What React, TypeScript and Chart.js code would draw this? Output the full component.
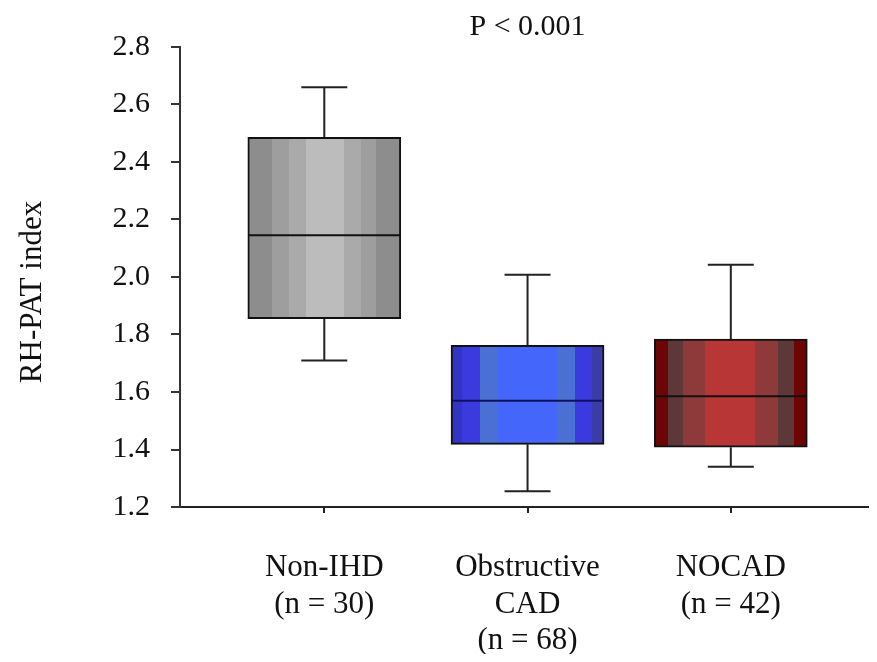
import React, { useEffect, useRef } from "react";
import { Chart, registerables } from "chart.js";

Chart.register(...registerables);

// ---- data ----
const categories: string[][] = [
  ["Non-IHD", "(n = 30)"],
  ["Obstructive", "CAD", "(n = 68)"],
  ["NOCAD", "(n = 42)"],
];
const positions = [1, 2, 3];
const mins = [1.71, 1.255, 1.34];
const q1s = [1.855, 1.418, 1.408];
const medians = [2.145, 1.57, 1.585];
const q3s = [2.486, 1.762, 1.784];
const maxs = [2.66, 2.008, 2.043];
const yTickValues = [1.2, 1.4, 1.6, 1.8, 2.0, 2.2, 2.4, 2.6, 2.8];
const pTitle = "P < 0.001";
const yTitle = "RH-PAT index";

// ---- styles ----
const FONT = "'Liberation Serif', 'Times New Roman', serif";
const TEXT = "#111111";
const BOX_W = 153;
const CAP_W = 46;
const stripes: [number, string][][] = [
  [
    [0.16, "#8d8d8d"],
    [0.27, "#9e9e9e"],
    [0.38, "#aaaaaa"],
    [0.63, "#bcbcbc"],
    [0.74, "#aaaaaa"],
    [0.84, "#9e9e9e"],
    [1, "#8d8d8d"],
  ],
  [
    [0.07, "#3434c4"],
    [0.19, "#3a3ade"],
    [0.31, "#4a70d4"],
    [0.69, "#4566fb"],
    [0.81, "#4a70d4"],
    [0.92, "#3a3ade"],
    [1, "#3c3ca6"],
  ],
  [
    [0.09, "#6e0505"],
    [0.19, "#5e3838"],
    [0.33, "#8e3a3a"],
    [0.66, "#b93636"],
    [0.81, "#8e3a3a"],
    [0.91, "#5e3838"],
    [1, "#6e0505"],
  ],
];
const medianColors = ["#111111", "#101060", "#111111"];

function stripeGradient(c: CanvasRenderingContext2D, left: number, width: number, st: [number, string][]) {
  const g = c.createLinearGradient(left, 0, left + width, 0);
  let prev = 0;
  st.forEach(([end, color]) => {
    g.addColorStop(prev, color);
    g.addColorStop(end, color);
    prev = Math.min(end + 0.0001, 1);
  });
  return g;
}

const boxExtras = {
  id: "boxExtras",
  afterDatasetsDraw(chart: any) {
    const { ctx, scales } = chart;
    const xs = scales.x;
    const ys = scales.y;
    ctx.save();
    positions.forEach((p, i) => {
      const px = xs.getPixelForValue(p);
      const yMin = ys.getPixelForValue(mins[i]);
      const yMax = ys.getPixelForValue(maxs[i]);
      const yQ1 = ys.getPixelForValue(q1s[i]);
      const yQ3 = ys.getPixelForValue(q3s[i]);
      const yMed = ys.getPixelForValue(medians[i]);
      ctx.strokeStyle = "#222222";
      ctx.lineWidth = 2;
      ctx.beginPath();
      ctx.moveTo(px, yQ3);
      ctx.lineTo(px, yMax);
      ctx.moveTo(px - CAP_W / 2, yMax);
      ctx.lineTo(px + CAP_W / 2, yMax);
      ctx.moveTo(px, yQ1);
      ctx.lineTo(px, yMin);
      ctx.moveTo(px - CAP_W / 2, yMin);
      ctx.lineTo(px + CAP_W / 2, yMin);
      ctx.stroke();
      ctx.strokeStyle = medianColors[i];
      ctx.beginPath();
      ctx.moveTo(px - BOX_W / 2 + 1, yMed);
      ctx.lineTo(px + BOX_W / 2 - 1, yMed);
      ctx.stroke();
    });
    ctx.restore();
  },
  afterDraw(chart: any) {
    const { ctx, scales } = chart;
    ctx.save();
    ctx.fillStyle = TEXT;
    ctx.font = `30px ${FONT}`;
    ctx.textAlign = "center";
    ctx.textBaseline = "alphabetic";
    ctx.fillText(pTitle, scales.x.getPixelForValue(2), 27);
    ctx.translate(25, 284);
    ctx.rotate(-Math.PI / 2);
    ctx.font = `31px ${FONT}`;
    ctx.textBaseline = "middle";
    ctx.fillText(yTitle, 0, 0);
    ctx.restore();
  },
};

export default function App() {
  const ref = useRef<HTMLCanvasElement | null>(null);
  useEffect(() => {
    if (!ref.current) return;
    const chart = new Chart(ref.current, {
      type: "bar",
      data: {
        datasets: [
          {
            data: positions.map((p, i) => ({ x: p, y: [q1s[i], q3s[i]] })) as any,
            barThickness: BOX_W,
            borderColor: "#111111",
            borderWidth: 2,
            borderSkipped: false,
            backgroundColor: (c: any) => {
              const i = c.dataIndex ?? 0;
              const xs = c.chart.scales?.x;
              if (!xs) return "#999";
              const left = xs.getPixelForValue(positions[i]) - BOX_W / 2;
              if (!Number.isFinite(left)) return "#999";
              return stripeGradient(c.chart.ctx, left, BOX_W, stripes[i]);
            },
          } as any,
        ],
      },
      options: {
        responsive: false,
        animation: false,
        layout: { padding: { top: 35, right: 0, left: 0, bottom: 0 } },
        plugins: { legend: { display: false }, tooltip: { enabled: false }, title: { display: false } },
        scales: {
          x: {
            type: "linear",
            offset: false,
            min: 0.29,
            max: 3.68,
            grid: { offset: false, drawOnChartArea: false, tickLength: 6, color: "#222", lineWidth: 2 },
            border: { color: "#222", width: 2 },
            ticks: {
              color: TEXT,
              font: { family: FONT, size: 31, lineHeight: 1.17 },
              padding: 37,
              maxRotation: 0,
              autoSkip: false,
              callback: (v: any) => categories[Number(v) - 1] ?? "",
            },
            afterBuildTicks: (s: any) => {
              s.ticks = positions.map((v) => ({ value: v }));
            },
            afterFit: (s: any) => {
              s.height = 147;
            },
          } as any,
          y: {
            min: 1.2,
            max: 2.8,
            grid: { drawOnChartArea: false, tickLength: 9, color: "#333", lineWidth: 2 },
            border: { color: "#333", width: 2 },
            ticks: {
              color: TEXT,
              font: { family: FONT, size: 30 },
              padding: 21,
              callback: (v: any) => Number(v).toFixed(1),
            },
            afterBuildTicks: (s: any) => {
              s.ticks = yTickValues.map((v) => ({ value: v }));
            },
            afterFit: (s: any) => {
              s.width = 172;
            },
          } as any,
        },
      },
      plugins: [boxExtras],
    });
    return () => chart.destroy();
  }, []);
  return <canvas ref={ref} width={861} height={646} style={{ display: "block" }} />;
}
